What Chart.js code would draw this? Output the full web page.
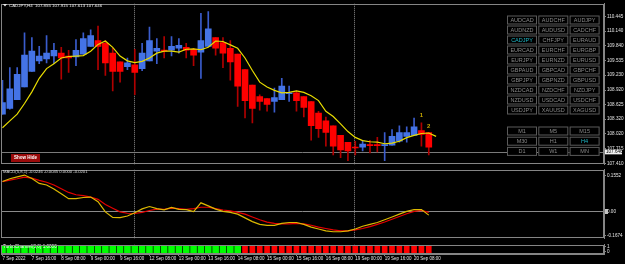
<!DOCTYPE html>
<html>
<head>
<meta charset="utf-8">
<title>CADJPY,H4</title>
<script src="https://cdn.jsdelivr.net/npm/chart.js@4.4.0/dist/chart.umd.min.js"></script>
<style>
    html, body { margin: 0; padding: 0; background: #000; }
    #wrap { position: relative; width: 625px; height: 264px; overflow: hidden; background: #000; }
    #wrap canvas { position: absolute; left: 0; }
    #mainChart { top: 0; }
    #macdChart { top: 166px; }
    #turboChart { top: 241px; }
</style>
</head>
<body>
<div id="wrap">
    <canvas id="mainChart" width="625" height="168" style="width:625px;height:168px"></canvas>
    <canvas id="macdChart" width="625" height="76" style="width:625px;height:76px"></canvas>
    <canvas id="turboChart" width="625" height="23" style="width:625px;height:23px"></canvas>
</div>
<script>
/* =========================================
   CADJPY H4 - MT4 STYLE CHART
   ========================================= */

// ===== DATA =====
const timeTickBars = [0, 4, 8, 12, 16, 20, 24, 28, 32, 36, 40, 44, 48, 52, 56];
const timeTickLabels = ['7 Sep 2022', '7 Sep 16:00', '8 Sep 08:00', '9 Sep 00:00', '9 Sep 16:00', '12 Sep 08:00', '13 Sep 00:00', '13 Sep 16:00', '14 Sep 08:00', '15 Sep 00:00', '15 Sep 16:00', '16 Sep 08:00', '19 Sep 00:00', '19 Sep 16:00', '20 Sep 08:00'];
const weekSeparators = [18, 48];

const opens  = [108.425, 108.545, 108.725, 108.985, 109.305, 109.525, 109.565, 109.625, 109.685, 109.625, 109.605, 109.665, 109.825, 109.945, 109.885, 109.685, 109.505, 109.405, 109.445, 109.365, 109.525, 109.725, 109.745, 109.745, 109.785, 109.805, 109.765, 109.705, 109.825, 110.005, 109.905, 109.785, 109.665, 109.345, 109.025, 108.785, 108.745, 108.685, 108.725, 108.845, 108.865, 108.785, 108.685, 108.445, 108.285, 108.185, 107.985, 107.845, 107.745, 107.745, 107.785, 107.785, 107.775, 107.785, 107.865, 107.965, 107.985, 108.085, 108.045];
const highs  = [109.125, 109.385, 109.385, 110.105, 110.005, 109.825, 110.045, 109.885, 109.805, 109.745, 109.965, 110.105, 110.165, 110.245, 109.945, 109.785, 109.505, 109.585, 109.765, 109.885, 110.225, 109.985, 110.025, 110.025, 109.985, 109.885, 109.785, 110.505, 110.545, 110.005, 110.005, 109.945, 109.665, 109.345, 109.025, 108.825, 108.745, 108.965, 109.165, 109.005, 108.905, 108.785, 108.685, 108.485, 108.365, 108.185, 107.985, 107.845, 107.865, 107.885, 107.885, 107.945, 108.045, 108.105, 108.185, 108.165, 108.345, 108.245, 108.045];
const lows   = [108.425, 108.525, 108.725, 108.985, 109.305, 109.465, 109.485, 109.465, 109.145, 109.285, 109.425, 109.665, 109.825, 109.345, 109.225, 108.905, 109.085, 109.345, 108.825, 109.325, 109.525, 109.465, 109.585, 109.625, 109.685, 109.585, 109.425, 109.165, 109.825, 109.645, 109.385, 109.125, 108.585, 108.345, 108.245, 108.505, 108.485, 108.465, 108.725, 108.685, 108.485, 108.365, 107.885, 107.945, 107.765, 107.585, 107.525, 107.465, 107.585, 107.665, 107.625, 107.645, 107.465, 107.785, 107.845, 107.845, 107.985, 107.765, 107.585];
const closes = [108.665, 108.945, 109.245, 109.645, 109.725, 109.625, 109.685, 109.745, 109.585, 109.585, 109.745, 109.985, 110.045, 109.825, 109.485, 109.305, 109.305, 109.485, 109.285, 109.685, 109.945, 109.785, 109.725, 109.825, 109.845, 109.745, 109.645, 109.945, 110.185, 109.785, 109.685, 109.505, 109.005, 108.705, 108.545, 108.685, 108.625, 108.765, 109.005, 108.865, 108.705, 108.565, 108.185, 108.125, 108.045, 107.765, 107.685, 107.665, 107.725, 107.805, 107.775, 107.775, 107.785, 107.965, 108.045, 108.045, 108.165, 108.005, 107.745];

const maValues = [108.145, 108.285, 108.425, 108.645, 108.885, 109.165, 109.365, 109.465, 109.585, 109.615, 109.625, 109.635, 109.725, 109.865, 109.935, 109.805, 109.625, 109.525, 109.491, 109.515, 109.585, 109.685, 109.725, 109.725, 109.705, 109.765, 109.771, 109.755, 109.805, 109.935, 109.925, 109.855, 109.785, 109.585, 109.325, 109.085, 108.985, 108.915, 108.865, 108.875, 108.905, 108.875, 108.805, 108.705, 108.485, 108.375, 108.225, 108.065, 107.945, 107.879, 107.855, 107.845, 107.813, 107.825, 107.865, 107.939, 107.985, 108.025, 108.035, 107.965];

const macdMain   = [0.129, 0.141, 0.149, 0.157, 0.142, 0.121, 0.114, 0.097, 0.076, 0.055, 0.055, 0.060, 0.062, 0.042, -0.002, -0.026, -0.027, -0.020, -0.006, 0.011, 0.021, 0.012, 0.007, 0.017, 0.009, 0.008, -0.001, 0.037, 0.024, 0.010, 0.000, -0.004, -0.012, -0.028, -0.044, -0.056, -0.060, -0.060, -0.052, -0.048, -0.048, -0.056, -0.068, -0.076, -0.084, -0.088, -0.088, -0.084, -0.076, -0.064, -0.056, -0.048, -0.036, -0.024, -0.012, 0.000, 0.008, 0.008, -0.016];
const macdSignal = [0.129, 0.135, 0.141, 0.148, 0.144, 0.134, 0.126, 0.114, 0.098, 0.082, 0.072, 0.068, 0.062, 0.052, 0.030, 0.014, -0.002, -0.008, -0.009, -0.004, 0.004, 0.010, 0.009, 0.014, 0.012, 0.009, 0.012, 0.018, 0.018, 0.012, 0.006, 0.002, -0.004, -0.012, -0.024, -0.036, -0.046, -0.052, -0.054, -0.054, -0.052, -0.054, -0.060, -0.068, -0.074, -0.080, -0.084, -0.084, -0.080, -0.074, -0.066, -0.056, -0.046, -0.034, -0.022, -0.010, 0.000, 0.004, -0.004];

const turboDir = [1, 1, 1, 1, 1, 1, 1, 1, 1, 1, 1, 1, 1, 1, 1, 1, 1, 1, 1, 1, 1, 1, 1, 1, 1, 1, 1, 1, 1, 1, 1, 1, 1, -1, -1, -1, -1, -1, -1, -1, -1, -1, -1, -1, -1, -1, -1, -1, -1, -1, -1, -1, -1, -1, -1, -1, -1, -1, -1];

const priceTicks = [110.445, 110.140, 109.840, 109.535, 109.230, 108.920, 108.625, 108.320, 108.020, 107.715, 107.410];
const macdTicks = [0.1552, 0, -0.1674];
const macdTickLabels = ['0.1552', '0.00', '-0.1674'];
const turboTicks = [1, 0];
const turboTickLabels = ['1', '0'];

const bidPrice = 107.646;
const headerText = 'CADJPY,H4  107.855 107.915 107.613 107.646';
const macdTitle = 'MACD(5,8,1) -0.0246 -0.0045 0.0000 -0.0201';
const turboTitle = 'TurboChannel(3,0) 1.0000';
const markerBars = [57, 58];
const markerPrices = [108.39, 108.17];
const markerLabels = ['1', '2'];

const symbols = ['AUDCAD', 'AUDCHF', 'AUDJPY', 'AUDNZD', 'AUDUSD', 'CADCHF', 'CADJPY', 'CHFJPY', 'EURAUD', 'EURCAD', 'EURCHF', 'EURGBP', 'EURJPY', 'EURNZD', 'EURUSD', 'GBPAUD', 'GBPCAD', 'GBPCHF', 'GBPJPY', 'GBPNZD', 'GBPUSD', 'NZDCAD', 'NZDCHF', 'NZDJPY', 'NZDUSD', 'USDCAD', 'USDCHF', 'USDJPY', 'XAUUSD', 'XAGUSD'];
const timeframes = ['M1', 'M5', 'M15', 'M30', 'H1', 'H4', 'D1', 'W1', 'MN'];
const activeSymbol = 'CADJPY';
const activeTimeframe = 'H4';

// ===== STYLE =====
const X_MIN = -0.2;
const X_MAX = 81.84;
const FONT = 'Liberation Sans, Arial, sans-serif';
const BULL = '#4473e6';
const BEAR = '#ff0000';
const BULL_WICK = '#3a5ccc';
const BEAR_WICK = '#b00000';
const FRAME = '#858585';
const TEXT = '#e4e4e4';

Chart.defaults.font.family = FONT;
Chart.defaults.animation = false;

// clamp tick values inside the panel like MT4 does with its min/max labels
function clampedTicks(scale, values, areaHeight, px) {
    const per = (scale.max - scale.min) / areaHeight;
    const lo = scale.min + px * per;
    const hi = scale.max - px * per;
    scale.ticks = values.map(v => ({ value: Math.min(hi, Math.max(lo, v)) }));
}

function rightAxis(extra) {
    return Object.assign({
        position: 'right',
        afterFit: s => { s.width = 21; },
        border: { color: FRAME },
        grid: { drawOnChartArea: false, color: FRAME, tickLength: 2 }
    }, extra);
}

function axisTicks(cb) {
    return { color: TEXT, font: { size: 4.6 }, padding: 1, autoSkip: false, callback: cb };
}

// frame + week separators
const panelPlugin = {
    id: 'panel',
    beforeDatasetsDraw(chart) {
        const { ctx, chartArea: a, scales: { x } } = chart;
        ctx.save();
        ctx.strokeStyle = '#8c8c8c';
        ctx.lineWidth = 1;
        ctx.setLineDash([1, 1]);
        weekSeparators.forEach(b => {
            const px = Math.round(x.getPixelForValue(b)) - 0.5;
            ctx.beginPath();
            ctx.moveTo(px, a.top);
            ctx.lineTo(px, a.bottom);
            ctx.stroke();
        });
        ctx.restore();
    },
    afterDraw(chart) {
        const { ctx, chartArea: a } = chart;
        ctx.save();
        ctx.strokeStyle = FRAME;
        ctx.lineWidth = 1;
        ctx.strokeRect(Math.round(a.left) + 0.5, Math.round(a.top) + 0.5, Math.round(a.right - a.left) - 1, Math.round(a.bottom - a.top) - 1);
        ctx.restore();
    }
};

document.addEventListener('DOMContentLoaded', function() {

    // ===== MAIN PRICE CHART =====
    const isUp = opens.map((o, i) => closes[i] >= o);

    const mainPlugin = {
        id: 'mainExtras',
        beforeDatasetsDraw(chart) {
            const { ctx, chartArea: a, scales: { y } } = chart;
            const by = Math.round(y.getPixelForValue(bidPrice)) + 0.5;
            ctx.save();
            ctx.strokeStyle = '#7a7a7a';
            ctx.beginPath();
            ctx.moveTo(a.left, by);
            ctx.lineTo(a.right, by);
            ctx.stroke();
            ctx.restore();
        },
        afterDraw(chart) {
            const { ctx, scales: { x, y } } = chart;
            ctx.save();

            // header
            ctx.fillStyle = '#e8e8e8';
            ctx.beginPath();
            ctx.moveTo(3, 4); ctx.lineTo(7, 4); ctx.lineTo(5, 6.5); ctx.closePath();
            ctx.fill();
            ctx.font = '4.4px ' + FONT;
            ctx.textBaseline = 'middle';
            ctx.fillText(headerText, 9, 5.5);

            // arrow markers
            ctx.font = 'bold 6px ' + FONT;
            ctx.textAlign = 'center';
            ctx.fillStyle = '#c9a800';
            markerBars.forEach((b, i) => {
                ctx.fillText(markerLabels[i], x.getPixelForValue(b), y.getPixelForValue(markerPrices[i]));
            });

            // bid label
            const by = y.getPixelForValue(bidPrice);
            ctx.fillStyle = '#f2f2f2';
            ctx.fillRect(605, by - 2.5, 17, 5);
            ctx.fillStyle = '#000';
            ctx.font = '4.6px ' + FONT;
            ctx.textAlign = 'left';
            ctx.fillText(bidPrice.toFixed(3), 606, by + 0.2);

            // show / hide button
            ctx.fillStyle = '#9a0a0a';
            ctx.fillRect(11, 154, 29, 8);
            ctx.fillStyle = '#fff';
            ctx.font = 'bold 4.5px ' + FONT;
            ctx.textAlign = 'center';
            ctx.fillText('Show Hide', 25.5, 158.2);

            // symbol + timeframe buttons
            ctx.font = '5.5px ' + FONT;
            ctx.lineWidth = 1;
            const drawButton = (label, bx, byy, active) => {
                ctx.fillStyle = '#000';
                ctx.fillRect(bx, byy, 30, 9);
                ctx.strokeStyle = '#5a5a5a';
                ctx.strokeRect(bx + 0.5, byy + 0.5, 29, 8);
                ctx.fillStyle = active ? '#1fb8c6' : '#8a8a8a';
                ctx.fillText(label, bx + 15, byy + 4.8);
            };
            symbols.forEach((s, i) => {
                drawButton(s, 507 + (i % 3) * 31.3, 15.5 + Math.floor(i / 3) * 10, s === activeSymbol);
            });
            timeframes.forEach((t, i) => {
                drawButton(t, 507 + (i % 3) * 31.3, 126.5 + Math.floor(i / 3) * 10.2, t === activeTimeframe);
            });

            ctx.restore();
        }
    };

    new Chart(document.getElementById('mainChart'), {
        type: 'bar',
        data: {
            datasets: [{
                type: 'line',
                label: 'MA',
                data: maValues.map((v, i) => ({ x: i, y: v })),
                borderColor: '#e8dc00',
                borderWidth: 1.2,
                pointRadius: 0,
                tension: 0,
                order: 0
            }, {
                label: 'Body',
                data: opens.map((o, i) => ({ x: i, y: [o, closes[i]] })),
                backgroundColor: isUp.map(u => u ? BULL : BEAR),
                barThickness: 6,
                minBarLength: 1,
                grouped: false,
                order: 1
            }, {
                label: 'Wick',
                data: lows.map((l, i) => ({ x: i, y: [l, highs[i]] })),
                backgroundColor: isUp.map(u => u ? BULL_WICK : BEAR_WICK),
                barThickness: 1,
                grouped: false,
                order: 2
            }]
        },
        options: {
            responsive: false,
            layout: { padding: { top: 1, bottom: 1, left: 1, right: 0 } },
            plugins: { legend: { display: false }, tooltip: { enabled: false } },
            scales: {
                x: { type: 'linear', display: false, min: X_MIN, max: X_MAX, offset: false, grid: { display: false } },
                y: rightAxis({
                    min: 107.39,
                    max: 110.7046,
                    afterBuildTicks: s => { s.ticks = priceTicks.map(v => ({ value: v })); },
                    ticks: axisTicks((v, i) => priceTicks[i].toFixed(3))
                })
            }
        },
        plugins: [panelPlugin, mainPlugin]
    });

    // ===== MACD PANEL =====
    const macdPlugin = {
        id: 'macdExtras',
        beforeDatasetsDraw(chart) {
            const { ctx, chartArea: a, scales: { y } } = chart;
            const zy = Math.round(y.getPixelForValue(0)) + 0.5;
            ctx.save();
            ctx.strokeStyle = '#8a8a8a';
            ctx.beginPath();
            ctx.moveTo(a.left, zy);
            ctx.lineTo(a.right, zy);
            ctx.stroke();
            ctx.fillStyle = '#c4c4c4';
            ctx.fillRect(605, zy - 2.5, 3, 5);
            ctx.restore();
        },
        afterDraw(chart) {
            const { ctx } = chart;
            ctx.save();
            ctx.fillStyle = '#d8d8d8';
            ctx.font = '4.2px ' + FONT;
            ctx.textBaseline = 'middle';
            ctx.fillText(macdTitle, 3, 6);
            ctx.restore();
        }
    };

    new Chart(document.getElementById('macdChart'), {
        type: 'line',
        data: {
            datasets: [{
                label: 'MACD',
                data: macdMain.map((v, i) => ({ x: i, y: v })),
                borderColor: '#dcb800',
                borderWidth: 1.2,
                pointRadius: 0
            }, {
                label: 'Signal',
                data: macdSignal.map((v, i) => ({ x: i, y: v })),
                borderColor: '#e60000',
                borderWidth: 1.2,
                pointRadius: 0
            }]
        },
        options: {
            responsive: false,
            layout: { padding: { top: 1, bottom: 1, left: 1, right: 0 } },
            plugins: { legend: { display: false }, tooltip: { enabled: false } },
            scales: {
                x: { type: 'linear', display: false, min: X_MIN, max: X_MAX, offset: false },
                y: rightAxis({
                    min: -0.116,
                    max: 0.18,
                    afterBuildTicks: s => clampedTicks(s, macdTicks, 74, 3),
                    ticks: axisTicks((v, i) => macdTickLabels[i])
                })
            }
        },
        plugins: [panelPlugin, macdPlugin]
    });

    // ===== TURBO CHANNEL HISTOGRAM =====
    const turboPlugin = {
        id: 'turboExtras',
        afterDatasetsDraw(chart) {
            const { ctx } = chart;
            ctx.save();
            ctx.fillStyle = '#f0f0f0';
            ctx.font = '4.6px ' + FONT;
            ctx.textBaseline = 'middle';
            ctx.fillText(turboTitle, 3, 5.5);
            ctx.restore();
        }
    };

    new Chart(document.getElementById('turboChart'), {
        type: 'bar',
        data: {
            datasets: [{
                label: 'Up',
                data: turboDir.map((d, i) => ({ x: i, y: d > 0 ? 1 : null })),
                backgroundColor: '#00ff00',
                barThickness: 6,
                grouped: false
            }, {
                label: 'Down',
                data: turboDir.map((d, i) => ({ x: i, y: d < 0 ? 1 : null })),
                backgroundColor: '#ff0000',
                barThickness: 5,
                grouped: false
            }]
        },
        options: {
            responsive: false,
            layout: { padding: { top: 0, bottom: 0, left: 1, right: 0 } },
            plugins: { legend: { display: false }, tooltip: { enabled: false } },
            scales: {
                x: {
                    type: 'linear',
                    min: X_MIN,
                    max: X_MAX,
                    offset: false,
                    afterFit: s => { s.height = 10; },
                    afterBuildTicks: s => { s.ticks = timeTickBars.map(v => ({ value: v })); },
                    border: { color: FRAME },
                    grid: { drawOnChartArea: false, color: FRAME, tickLength: 2, offset: false },
                    ticks: { color: TEXT, font: { size: 4.5 }, padding: 0, align: 'start', maxRotation: 0, autoSkip: false, callback: (v, i) => timeTickLabels[i] }
                },
                y: rightAxis({
                    min: 0,
                    max: 1.1,
                    afterBuildTicks: s => clampedTicks(s, turboTicks, 13, 3),
                    ticks: axisTicks((v, i) => turboTickLabels[i])
                })
            }
        },
        plugins: [panelPlugin, turboPlugin]
    });
});
</script>
</body>
</html>
